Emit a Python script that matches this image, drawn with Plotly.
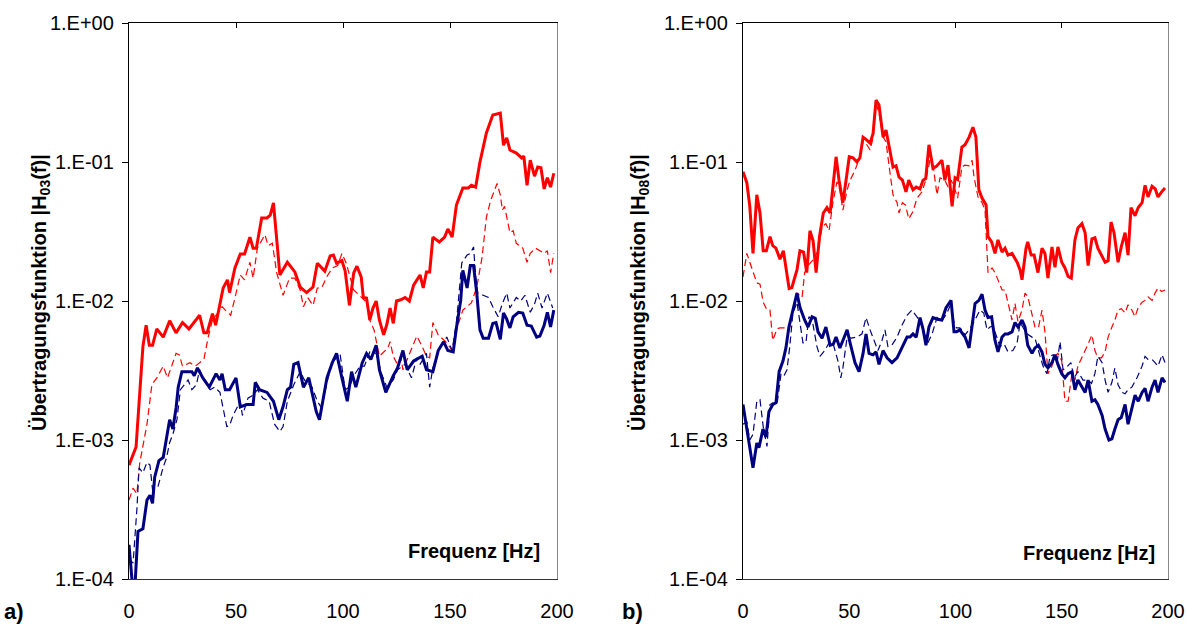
import plotly.graph_objects as go

# ---------------- Panel a) : H03 ----------------
a_red_solid_f = [0, 3.3, 6.5, 8, 9.5, 11, 13, 16, 19, 22, 25, 28, 33, 35, 36.5, 39, 40.5, 42, 44, 46, 47, 49.5, 52, 54, 56.5, 58, 59.5, 62, 64.5, 66, 67.5, 69.5, 70.5, 74, 77.5, 80, 83, 86, 88, 91.5, 94, 95.5, 97, 99.5, 101, 103, 105, 106.5, 108.5, 109.5, 111, 112.5, 114, 115.5, 117, 119, 120.5, 122, 123.5, 125, 127, 129, 131, 133, 136, 137.5, 139, 140.5, 142, 145, 147.5, 149, 151, 153, 156, 158.5, 160, 162, 164, 167, 170, 173.5, 175, 176.5, 178, 181, 183.5, 184.5, 186, 187.5, 189.5, 191, 192.5, 194, 195.5, 197, 198.5]
a_red_solid_v = [6.6e-4, 8.9e-4, 4.7e-3, 6.7e-3, 4.8e-3, 4.8e-3, 6.3e-3, 5.5e-3, 7.2e-3, 5.9e-3, 7.0e-3, 6.3e-3, 7.9e-3, 5.9e-3, 5.9e-3, 8.1e-3, 6.7e-3, 8.7e-3, 0.0124, 0.0142, 0.0115, 0.0173, 0.0218, 0.0218, 0.0288, 0.024, 0.024, 0.0396, 0.0396, 0.0415, 0.0507, 0.023, 0.0154, 0.019, 0.0162, 0.0126, 0.0115, 0.0126, 0.0187, 0.0164, 0.0211, 0.0214, 0.0187, 0.0195, 0.0165, 0.0093, 0.0159, 0.0178, 0.0149, 0.0106, 0.0105, 0.0073, 0.0089, 0.010, 0.0073, 0.0057, 0.0068, 0.0089, 0.0069, 0.010, 0.0102, 0.0106, 0.010, 0.013, 0.0154, 0.0124, 0.0162, 0.0162, 0.0288, 0.0266, 0.0288, 0.033, 0.0288, 0.049, 0.065, 0.065, 0.068, 0.066, 0.1, 0.162, 0.218, 0.225, 0.132, 0.149, 0.122, 0.116, 0.107, 0.11, 0.068, 0.103, 0.079, 0.092, 0.091, 0.064, 0.077, 0.066, 0.083]

a_red_dash_f = [0, 1.9, 3.7, 5, 8.4, 10.7, 13, 16, 18, 22, 23.5, 25, 28.5, 31, 33, 35, 37, 39, 41, 43.5, 45, 47.5, 49.5, 52, 54, 56.5, 58, 60, 63.5, 65, 67, 69, 72, 75, 77.5, 80, 81.5, 83.5, 86, 88, 90, 92.5, 95, 97.5, 99.5, 101.5, 105, 109, 111, 112.5, 114.5, 117, 119, 121, 122, 123.5, 125, 127, 128, 130.5, 133, 134.5, 137, 139, 140.5, 142, 144.5, 146.5, 148.5, 151, 153, 156, 160, 162.5, 165, 167, 169, 172, 173.5, 174.5, 175.5, 178, 179.5, 181, 182.5, 184, 186, 187.5, 190, 192, 194, 195.5, 197, 198.5]
a_red_dash_v = [3.7e-4, 4.5e-4, 4.1e-4, 6.8e-4, 1.3e-3, 2.5e-3, 2.8e-3, 3.4e-3, 2.8e-3, 4.2e-3, 4.1e-3, 3.4e-3, 3.6e-3, 3.4e-3, 3.6e-3, 3.8e-3, 5.5e-3, 7.3e-3, 8.0e-3, 9.1e-3, 8.6e-3, 7.9e-3, 0.0105, 0.0154, 0.0142, 0.019, 0.0146, 0.024, 0.030, 0.025, 0.026, 0.016, 0.011, 0.0146, 0.0146, 0.012, 0.0091, 0.0106, 0.0093, 0.0124, 0.0124, 0.015, 0.0173, 0.018, 0.022, 0.0187, 0.012, 0.0106, 0.0098, 0.0073, 0.0062, 0.004, 0.0043, 0.0046, 0.0051, 0.004, 0.0036, 0.004, 0.0032, 0.004, 0.0049, 0.0056, 0.0047, 0.004, 0.0039, 0.007, 0.0057, 0.0053, 0.005, 0.0044, 0.0062, 0.0086, 0.0097, 0.0126, 0.0207, 0.04, 0.053, 0.070, 0.058, 0.045, 0.048, 0.031, 0.032, 0.026, 0.025, 0.024, 0.019, 0.022, 0.024, 0.023, 0.022, 0.023, 0.016, 0.022]

a_blue_solid_f = [0, 1.5, 2.8, 4.2, 6.5, 8.4, 9.8, 11, 12, 14, 16, 17.5, 19, 20.5, 22, 23, 24.7, 27, 29.4, 30.5, 32, 34.5, 37.5, 40.7, 42.5, 43.5, 45, 47, 50, 52, 55, 58, 59, 61, 64.5, 67.5, 70, 72, 74, 75.5, 77, 79, 81.5, 84, 87.5, 89, 92.5, 95, 97, 99.5, 102, 104, 106, 109, 111, 113, 115.5, 117, 120, 123.5, 125.5, 128, 130, 133, 135.5, 137, 139, 142, 144.5, 147, 149, 151.5, 153, 155, 156, 158, 159.5, 161, 162.5, 164, 165.5, 168, 170, 171.5, 173.5, 175, 176.5, 178, 179.5, 182, 184, 186, 188, 190.5, 192, 194, 195.5, 197, 198.5]
a_blue_solid_v = [1.76e-4, 0.95e-4, 0.9e-4, 2.2e-4, 2.3e-4, 3.7e-4, 4.0e-4, 3.5e-4, 5.4e-4, 7.1e-4, 7.5e-4, 1.0e-3, 1.4e-3, 1.2e-3, 1.7e-3, 2.4e-3, 3.1e-3, 3.1e-3, 3.1e-3, 2.9e-3, 3.3e-3, 2.8e-3, 2.4e-3, 3.0e-3, 2.7e-3, 3.0e-3, 2.3e-3, 2.3e-3, 2.8e-3, 1.73e-3, 1.8e-3, 1.8e-3, 2.6e-3, 2.3e-3, 2.2e-3, 1.9e-3, 1.4e-3, 1.74e-3, 2.3e-3, 2.4e-3, 3.5e-3, 3.6e-3, 2.4e-3, 2.8e-3, 1.6e-3, 1.4e-3, 2.8e-3, 3.6e-3, 4.2e-3, 2.8e-3, 1.9e-3, 3.1e-3, 2.4e-3, 3.6e-3, 4.2e-3, 3.8e-3, 4.8e-3, 3.2e-3, 2.2e-3, 2.9e-3, 3.3e-3, 4.4e-3, 3.2e-3, 3.7e-3, 3.9e-3, 4.0e-3, 3.2e-3, 3.1e-3, 4.4e-3, 5.1e-3, 4.4e-3, 4.3e-3, 6.4e-3, 0.0101, 0.0166, 0.0124, 0.018, 0.018, 0.0114, 6.2e-3, 5.4e-3, 5.4e-3, 6.9e-3, 7.0e-3, 5.3e-3, 8.2e-3, 7.4e-3, 6.4e-3, 7.7e-3, 8.3e-3, 8.2e-3, 6.7e-3, 6.6e-3, 5.5e-3, 5.6e-3, 6.7e-3, 8.3e-3, 6.5e-3, 8.6e-3]

a_blue_dash_f = [0, 1.9, 3.7, 4.7, 6.5, 8.4, 9.8, 11, 13.5, 16, 17.5, 19, 20.5, 22.4, 24, 25, 27.6, 29.4, 31.5, 33, 35, 38, 40, 42.5, 45.7, 47, 48.6, 52, 53, 55.6, 58, 60, 62.6, 65.5, 68, 70.5, 72, 74, 77, 80, 82, 85.5, 88, 90, 92.5, 95, 98.6, 101, 103, 105, 108, 110, 112.5, 115.5, 118, 120.5, 123.5, 125.5, 129, 132, 134.5, 136, 139, 140.5, 142, 145, 148.5, 151, 153, 155.5, 158, 159.5, 161, 162, 163, 165.5, 168, 170, 172.5, 174.5, 176.5, 178, 181, 183, 185, 187.5, 189.5, 191, 193, 195.5, 197, 198]
a_blue_dash_v = [1.4e-4, 1.3e-4, 3.2e-4, 6.3e-4, 5.8e-4, 6.9e-4, 6.6e-4, 4.4e-4, 4.6e-4, 6.4e-4, 7.4e-4, 9.6e-4, 1.1e-3, 1.4e-3, 2.3e-3, 2.4e-3, 2.7e-3, 2.3e-3, 2.5e-3, 3.2e-3, 2.7e-3, 2.3e-3, 2.4e-3, 2.2e-3, 1.25e-3, 1.27e-3, 1.5e-3, 1.9e-3, 1.5e-3, 2.0e-3, 2.1e-3, 2.3e-3, 2.0e-3, 1.9e-3, 1.3e-3, 1.15e-3, 1.25e-3, 1.9e-3, 2.5e-3, 3.1e-3, 2.7e-3, 2.4e-3, 1.9e-3, 1.7e-3, 2.6e-3, 3.6e-3, 4.2e-3, 2.3e-3, 2.4e-3, 2.9e-3, 3.4e-3, 3.4e-3, 4.3e-3, 4.2e-3, 3.0e-3, 2.4e-3, 2.7e-3, 3.2e-3, 3.5e-3, 2.8e-3, 3.9e-3, 3.5e-3, 4.2e-3, 2.4e-3, 3.3e-3, 4.6e-3, 5.5e-3, 4.4e-3, 7e-3, 0.0188, 0.0214, 0.022, 0.0245, 0.015, 0.0114, 0.011, 0.0106, 9.1e-3, 7.7e-3, 9.6e-3, 0.0114, 8.9e-3, 0.0106, 0.010, 0.011, 8.3e-3, 9.5e-3, 0.0114, 8.9e-3, 0.0114, 0.010, 8.9e-3]

# ---------------- Panel b) : H08 ----------------
b_red_solid_f = [0, 1.8, 3.2, 4.7, 6.5, 8, 9.5, 11, 12.7, 14, 15.5, 17.4, 19, 20.7, 21.7, 23, 25.4, 26.8, 28.5, 30, 31.5, 33, 34.4, 36, 37.8, 39.5, 41, 42.3, 43.8, 45.2, 47, 48.5, 50, 51.8, 53.6, 55, 56.5, 58, 59.8, 61.2, 62.6, 64, 65.9, 67.3, 68.7, 70.6, 72, 73.4, 75, 76.7, 78, 80, 81.5, 83.3, 84.7, 86, 87.5, 89.4, 91, 93.6, 95, 96.5, 98.4, 99.8, 101, 103, 104.5, 106.4, 108.2, 109.6, 111, 112.5, 114.4, 115.3, 117, 118.6, 120, 121.9, 123.3, 124.7, 126.6, 129, 130.4, 131.3, 133.2, 134, 135.6, 137, 138.8, 140.7, 142.1, 143.5, 145.4, 146.8, 148.2, 150, 151.5, 153, 154.5, 156.2, 157.6, 159.5, 161, 162.4, 164.2, 165.6, 167, 169, 170.4, 171.8, 173.2, 174.6, 176.5, 178, 179.8, 181.2, 182.6, 184.5, 186, 187.8, 189.2, 190.6, 192.5, 194, 195.3, 197, 198.6]
b_red_solid_v = [0.085, 0.071, 0.048, 0.022, 0.058, 0.043, 0.023, 0.023, 0.029, 0.025, 0.024, 0.020, 0.023, 0.016, 0.0123, 0.0125, 0.0167, 0.023, 0.0225, 0.016, 0.032, 0.027, 0.016, 0.029, 0.043, 0.047, 0.043, 0.066, 0.109, 0.074, 0.051, 0.074, 0.109, 0.107, 0.100, 0.107, 0.151, 0.145, 0.137, 0.16, 0.279, 0.257, 0.151, 0.17, 0.128, 0.092, 0.094, 0.078, 0.074, 0.061, 0.074, 0.063, 0.066, 0.064, 0.074, 0.076, 0.133, 0.09, 0.093, 0.103, 0.074, 0.095, 0.048, 0.077, 0.075, 0.128, 0.133, 0.151, 0.178, 0.151, 0.063, 0.055, 0.049, 0.029, 0.0266, 0.022, 0.0275, 0.0225, 0.024, 0.0214, 0.022, 0.019, 0.0167, 0.0142, 0.024, 0.0266, 0.0214, 0.0214, 0.016, 0.024, 0.022, 0.0146, 0.0245, 0.0175, 0.0245, 0.019, 0.0173, 0.015, 0.0146, 0.0275, 0.0335, 0.036, 0.031, 0.018, 0.028, 0.0285, 0.024, 0.0207, 0.019, 0.0195, 0.037, 0.031, 0.019, 0.0245, 0.031, 0.0214, 0.047, 0.041, 0.047, 0.051, 0.068, 0.056, 0.067, 0.064, 0.056, 0.061, 0.065]

b_red_dash_f = [0, 1.8, 3.2, 4.7, 6.5, 8, 9.5, 11.3, 12.7, 14, 16, 17.4, 19.8, 22, 23.5, 25.4, 27.8, 29, 30.6, 33, 35.3, 37.2, 39, 40.5, 42.3, 44.2, 45.6, 47, 49, 50.4, 52.7, 55, 56.5, 58, 59.8, 61.2, 62.6, 64, 65.9, 67.3, 69.2, 70.6, 72.5, 73.4, 75, 76.5, 78, 80, 81.9, 84.2, 86, 88, 89.5, 91.3, 92.7, 95, 96.5, 98, 99.8, 101, 103, 104.5, 106.4, 107.8, 108.7, 110.6, 112.5, 113.9, 115.3, 117.2, 118.6, 120, 121.9, 123.3, 124.7, 126.6, 128, 129.4, 131.3, 132.7, 134, 136, 137.4, 139, 140.7, 142.1, 143.5, 145.4, 146.8, 148.2, 150, 151.5, 153, 154.8, 156.2, 157.6, 159.5, 161, 162.4, 164.2, 165.6, 167, 168.7, 170.4, 171.8, 173.6, 175, 176.5, 178, 179.8, 181.2, 183, 184.5, 186, 187.8, 189.2, 190.6, 192.5, 193.9, 195.3, 197, 198.6]
b_red_dash_v = [0.0149, 0.022, 0.019, 0.016, 0.0135, 0.0132, 0.0098, 0.0086, 0.0086, 0.0052, 0.0063, 0.0064, 0.0064, 0.0064, 0.0086, 0.0114, 0.0106, 0.016, 0.018, 0.0198, 0.023, 0.034, 0.036, 0.032, 0.051, 0.072, 0.063, 0.045, 0.063, 0.074, 0.087, 0.109, 0.14, 0.135, 0.122, 0.149, 0.266, 0.225, 0.151, 0.14, 0.083, 0.058, 0.051, 0.043, 0.051, 0.049, 0.039, 0.044, 0.055, 0.061, 0.074, 0.103, 0.093, 0.058, 0.077, 0.074, 0.066, 0.074, 0.063, 0.055, 0.092, 0.095, 0.094, 0.103, 0.078, 0.056, 0.051, 0.045, 0.016, 0.0173, 0.016, 0.0142, 0.012, 0.012, 0.0098, 0.0073, 0.0096, 0.0071, 0.0086, 0.0114, 0.0108, 0.0082, 0.0065, 0.0064, 0.0086, 0.006, 0.003, 0.0034, 0.004, 0.0042, 0.0037, 0.0019, 0.0019, 0.003, 0.0027, 0.0034, 0.0039, 0.0044, 0.0049, 0.0057, 0.0044, 0.0039, 0.0039, 0.0043, 0.0055, 0.0065, 0.0073, 0.0086, 0.0088, 0.0082, 0.0094, 0.0086, 0.0077, 0.009, 0.0098, 0.0101, 0.0107, 0.0101, 0.0114, 0.0124, 0.0117, 0.012]

b_blue_solid_f = [0, 1.8, 3.2, 4.7, 6.5, 7.5, 9.4, 10.8, 12.2, 14, 15.5, 17, 18.8, 20.2, 21.6, 23.5, 25.4, 26.8, 29, 30.6, 32.5, 34, 35.3, 37.2, 39, 41, 42.5, 43.8, 45.6, 47, 49, 50.4, 52.7, 54.6, 56.5, 57.9, 59.3, 61.2, 62.6, 64, 65.9, 67.8, 70.1, 72.5, 74.8, 77.2, 78.6, 80, 81.5, 83.3, 84.7, 86.1, 87.5, 89.4, 91.5, 93.6, 95.5, 97.9, 99.3, 100.5, 102, 103, 104.5, 106.4, 107.8, 109.2, 111, 112.5, 113.9, 115.3, 117, 118.6, 120, 121.9, 123.3, 124.7, 126.6, 128, 129.4, 131.3, 132.7, 134, 136, 137.4, 139, 140.7, 142.1, 143.5, 145.4, 146.8, 148.2, 150, 151.5, 153, 154.8, 156.2, 157.6, 159.5, 161, 162.4, 164.2, 165.6, 167, 169, 170.4, 172.2, 173.6, 175, 176.5, 178, 179.8, 181.2, 183, 184.5, 186, 187.8, 189.2, 190.6, 192.5, 193.9, 195.3, 197.2, 198.6]
b_blue_solid_v = [0.0018, 0.0012, 8.6e-4, 6.3e-4, 9.5e-4, 8.8e-4, 1.2e-3, 1.05e-3, 1.6e-3, 1.8e-3, 1.85e-3, 3.1e-3, 3.7e-3, 4.6e-3, 6.5e-3, 8.6e-3, 0.0114, 9e-3, 7.3e-3, 6.5e-3, 7.7e-3, 7.5e-3, 6.0e-3, 5.4e-3, 6.5e-3, 4.8e-3, 4.9e-3, 5.5e-3, 4.6e-3, 5.2e-3, 6.2e-3, 5.0e-3, 3.6e-3, 3.1e-3, 4.2e-3, 5.8e-3, 4.2e-3, 4.1e-3, 4.3e-3, 3.5e-3, 4.4e-3, 3.9e-3, 3.6e-3, 3.9e-3, 4.6e-3, 5.5e-3, 5.5e-3, 5.8e-3, 5.5e-3, 7.6e-3, 6.3e-3, 4.8e-3, 6.5e-3, 7.6e-3, 7.4e-3, 7.3e-3, 8.9e-3, 0.0101, 6.0e-3, 6.0e-3, 6.2e-3, 5.9e-3, 5.5e-3, 4.6e-3, 6.4e-3, 9.6e-3, 0.0101, 0.0112, 8.6e-3, 7.6e-3, 7.7e-3, 5.2e-3, 4.3e-3, 5.5e-3, 5.8e-3, 5.8e-3, 6.0e-3, 7e-3, 6.5e-3, 7.3e-3, 6.5e-3, 4.8e-3, 4.2e-3, 4.6e-3, 4.8e-3, 4.3e-3, 3.5e-3, 3.3e-3, 3.6e-3, 4.1e-3, 3.5e-3, 3.0e-3, 2.8e-3, 3.0e-3, 3.1e-3, 2.3e-3, 2.7e-3, 2.4e-3, 2.2e-3, 2.7e-3, 1.9e-3, 1.95e-3, 1.8e-3, 1.5e-3, 1.2e-3, 1.0e-3, 1.02e-3, 1.2e-3, 1.4e-3, 1.45e-3, 1.8e-3, 1.3e-3, 1.7e-3, 2.1e-3, 1.9e-3, 2.2e-3, 2.35e-3, 1.9e-3, 2.4e-3, 2.7e-3, 2.2e-3, 2.8e-3, 2.6e-3]

b_blue_dash_f = [0, 1.8, 3.2, 4.7, 6.5, 8, 9.5, 11.3, 12.7, 14, 16, 17.9, 19.3, 20.7, 22, 23.5, 25.4, 26.8, 28.2, 29.6, 31, 32.5, 34.8, 36.2, 38.5, 40.5, 42.3, 44.7, 46, 47, 49, 51, 53.6, 56, 57.9, 59.8, 62.1, 63.5, 65.4, 66.8, 68.2, 70, 72.5, 74.8, 77.2, 79.5, 81, 83.3, 85.6, 87, 89, 91.3, 93.6, 96, 97.9, 99.3, 100.5, 102, 103, 104.5, 107, 109.2, 111.5, 113.3, 114.8, 116.2, 117.6, 120, 121, 122.9, 124.7, 127, 129, 130.4, 131.8, 133.6, 136, 137.4, 139.8, 141.2, 143, 144.5, 146, 147.8, 149.2, 150.6, 152, 154.3, 155.8, 157.6, 160, 162.4, 164, 165.6, 167, 169, 170.4, 171.8, 173.6, 175, 176.5, 178.4, 179.8, 181.2, 183, 185.4, 187.8, 189.2, 190.6, 192.5, 193.9, 195.3, 197.2, 198.6]
b_blue_dash_v = [1.3e-3, 1.35e-3, 1.0e-3, 1.1e-3, 1.9e-3, 1.95e-3, 1.25e-3, 9e-4, 1.8e-3, 1.85e-3, 1.8e-3, 3.0e-3, 2.9e-3, 3.2e-3, 4.7e-3, 8.2e-3, 9.8e-3, 7e-3, 5e-3, 5e-3, 7.7e-3, 7.4e-3, 4.7e-3, 4.0e-3, 4.4e-3, 5e-3, 5e-3, 3.7e-3, 2.8e-3, 3.3e-3, 5.5e-3, 5.4e-3, 5.5e-3, 5.8e-3, 7.6e-3, 6.2e-3, 5e-3, 4.4e-3, 5.2e-3, 6.2e-3, 4.7e-3, 4.8e-3, 5.5e-3, 6.7e-3, 7.9e-3, 8.6e-3, 8.0e-3, 7.2e-3, 5.7e-3, 5e-3, 5.8e-3, 7.6e-3, 7.2e-3, 8.2e-3, 9.6e-3, 7.0e-3, 6.4e-3, 6.4e-3, 6.2e-3, 5.7e-3, 6.4e-3, 7.3e-3, 8.6e-3, 8.2e-3, 6.2e-3, 6.5e-3, 6.6e-3, 5.2e-3, 4.7e-3, 4.9e-3, 4.3e-3, 4.4e-3, 5e-3, 7e-3, 6.5e-3, 5.8e-3, 5.5e-3, 5.4e-3, 4.0e-3, 3.4e-3, 3e-3, 4e-3, 4.1e-3, 3.6e-3, 5.1e-3, 3.2e-3, 3.3e-3, 3.6e-3, 2.8e-3, 3.1e-3, 2.7e-3, 2.7e-3, 2.55e-3, 3.0e-3, 4e-3, 3.6e-3, 2.7e-3, 2.2e-3, 2.6e-3, 3.3e-3, 2.5e-3, 2.2e-3, 2.15e-3, 2.3e-3, 2.4e-3, 2.8e-3, 3.4e-3, 4e-3, 3.8e-3, 3.8e-3, 3.6e-3, 3.4e-3, 4.1e-3, 3.6e-3]

x_ticks = [0, 50, 100, 150, 200]
y_ticks = [1e-4, 1e-3, 1e-2, 1e-1, 1]
y_tick_labels = ["1.E-04", "1.E-03", "1.E-02", "1.E-01", "1.E+00"]
y_titles = ["Übertragungsfunktion |H<sub>03</sub>(f)|", "Übertragungsfunktion |H<sub>08</sub>(f)|"]
panel_labels = ["a)", "b)"]
x_title = "Frequenz [Hz]"

RED = "#FF0000"
NAVY = "#000080"
FONT = "Arial, Liberation Sans, sans-serif"
W, H = 1187, 624

fig = go.Figure()

panels = [
    ("x", "y", a_red_dash_f, a_red_dash_v, a_red_solid_f, a_red_solid_v,
     a_blue_dash_f, a_blue_dash_v, a_blue_solid_f, a_blue_solid_v),
    ("x2", "y2", b_red_dash_f, b_red_dash_v, b_red_solid_f, b_red_solid_v,
     b_blue_dash_f, b_blue_dash_v, b_blue_solid_f, b_blue_solid_v),
]
for xa, ya, rdf, rdv, rsf, rsv, bdf, bdv, bsf, bsv in panels:
    fig.add_trace(go.Scatter(x=rdf, y=rdv, xaxis=xa, yaxis=ya, mode="lines",
                             line=dict(color=RED, width=1.2, dash="7px,4px"), showlegend=False))
    fig.add_trace(go.Scatter(x=bdf, y=bdv, xaxis=xa, yaxis=ya, mode="lines",
                             line=dict(color=NAVY, width=1.2, dash="7px,4px"), showlegend=False))
    fig.add_trace(go.Scatter(x=rsf, y=rsv, xaxis=xa, yaxis=ya, mode="lines",
                             line=dict(color=RED, width=3), showlegend=False))
    fig.add_trace(go.Scatter(x=bsf, y=bsv, xaxis=xa, yaxis=ya, mode="lines",
                             line=dict(color=NAVY, width=3), showlegend=False))

# dummy traces so the overlay (border / top tick) axes are drawn
fig.add_trace(go.Scatter(x=[None], y=[None], xaxis="x3", yaxis="y3", showlegend=False, hoverinfo="skip"))
fig.add_trace(go.Scatter(x=[None], y=[None], xaxis="x4", yaxis="y4", showlegend=False, hoverinfo="skip"))

ydom = [1 - 579 / H, 1 - 23 / H]
xdoms = [[129 / W, 557 / W], [743 / W, 1168 / W]]

tickfont = dict(family=FONT, size=20, color="black")

layout = dict(
    width=W, height=H, margin=dict(l=0, r=0, t=0, b=0, autoexpand=False),
    paper_bgcolor="white", plot_bgcolor="white",
    font=dict(family=FONT, size=20, color="black"),
)
for i, (xn, yn, xon, yon) in enumerate([("xaxis", "yaxis", "xaxis3", "yaxis3"),
                                         ("xaxis2", "yaxis2", "xaxis4", "yaxis4")]):
    xs = "x" if i == 0 else "x2"
    ys = "y" if i == 0 else "y2"
    xo = "x3" if i == 0 else "x4"
    yo = "y3" if i == 0 else "y4"
    layout[xn] = dict(domain=xdoms[i], anchor=ys, range=[0, 200], tickvals=x_ticks,
                      ticks="", showline=True, linecolor="#333333", linewidth=1,
                      showgrid=False, zeroline=False, tickfont=tickfont,
                      ticklabelstandoff=14, automargin=False)
    layout[yn] = dict(domain=ydom, anchor=xs, type="log", range=[-4, 0],
                      tickvals=y_ticks, ticktext=y_tick_labels, ticks="outside",
                      ticklen=6, tickcolor="black", tickwidth=1, showline=True,
                      linecolor="black", linewidth=1.3, showgrid=False, zeroline=False,
                      tickfont=tickfont, ticklabelstandoff=4, automargin=False)
    layout[xon] = dict(domain=xdoms[i], overlaying=xs, anchor=yo, side="top", range=[0, 200],
                       tickvals=x_ticks, ticks="inside", ticklen=5, tickcolor="black",
                       tickwidth=1, showline=True, linecolor="black", linewidth=1.3,
                       showticklabels=False, showgrid=False, zeroline=False, automargin=False)
    layout[yon] = dict(domain=ydom, overlaying=ys, anchor=xo, side="right", type="log", range=[-4, 0],
                       ticks="", showline=True, linecolor="#888888", linewidth=1,
                       showticklabels=False, showgrid=False, zeroline=False, automargin=False)

annotations = []
title_x = [40 / W, 639 / W]
label_x = [14 / W, 632 / W]
freq_x = [542 / W, 1157 / W]
freq_y = [1 - 551 / H, 1 - 553 / H]
for i in range(2):
    annotations.append(dict(text="<b>" + y_titles[i] + "</b>", xref="paper", yref="paper",
                            x=title_x[i], y=1 - 293 / H, textangle=-90, showarrow=False,
                            xanchor="center", yanchor="middle", font=dict(family=FONT, size=20)))
    annotations.append(dict(text="<b>" + panel_labels[i] + "</b>", xref="paper", yref="paper",
                            x=label_x[i], y=1 - 611 / H, showarrow=False,
                            xanchor="center", yanchor="middle", font=dict(family=FONT, size=22)))
    annotations.append(dict(text="<b>" + x_title + "</b>", xref="paper", yref="paper",
                            x=freq_x[i], y=freq_y[i], showarrow=False,
                            xanchor="right", yanchor="middle", font=dict(family=FONT, size=20)))
layout["annotations"] = annotations

fig.update_layout(**layout)
fig.write_html("out.html")
